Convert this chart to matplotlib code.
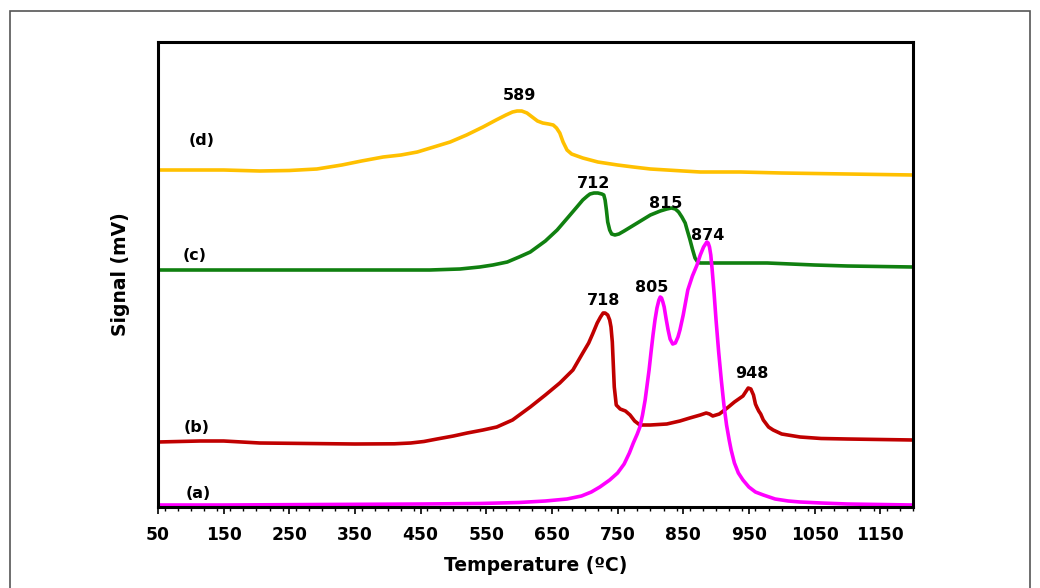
import matplotlib as mpl
mpl.use('Agg')
import matplotlib.pyplot as plt
from matplotlib.patches import Rectangle
from matplotlib.ticker import MultipleLocator, FixedLocator

# (a) magenta
Ta = [50, 150, 450, 540, 600, 640, 673, 695, 710, 723, 738, 750, 760, 768, 774, 780, 784, 788, 792, 795, 798, 801, 804, 807,
      810, 813, 815, 817, 819, 821, 824, 827, 830, 834, 838, 842, 845, 850, 857, 864, 871, 876, 881, 884, 886, 888, 890,
      892, 894, 897, 900, 904, 908, 912, 916, 920, 923, 928, 934, 941, 950, 960, 972, 990, 1010, 1028, 1060, 1100, 1150, 1200]
Sa = [0.02, 0.02, 0.03, 0.035, 0.045, 0.06, 0.08, 0.11, 0.15, 0.20, 0.27, 0.34, 0.43, 0.54, 0.64, 0.73, 0.80, 0.92, 1.07, 1.22, 1.37, 1.55, 1.72, 1.87,
      1.99, 2.07, 2.10, 2.09, 2.05, 2.00, 1.88, 1.77, 1.68, 1.63, 1.64, 1.70, 1.77, 1.92, 2.17, 2.31, 2.42, 2.52, 2.60, 2.63, 2.65, 2.64, 2.60,
      2.52, 2.38, 2.14, 1.87, 1.55, 1.27, 1.02, 0.82, 0.67, 0.57, 0.44, 0.34, 0.27, 0.20, 0.15, 0.12, 0.08, 0.06, 0.05, 0.04, 0.03, 0.025, 0.02]

# (b) red
Tb = [50, 114, 150, 205, 350, 410, 435, 455, 475, 500, 521, 545, 566, 590, 617, 640, 662, 682, 697, 706, 712, 719, 724, 728, 731,
      735, 738, 740, 742, 743, 745, 748, 754, 762, 769, 776, 784, 800, 825, 845, 860, 876, 885, 890, 895, 905, 917, 928, 941,
      946, 949, 953, 957, 960, 962, 965, 968, 972, 980, 987, 1000, 1028, 1060, 1100, 1150, 1200]
Sb = [0.65, 0.66, 0.66, 0.64, 0.63, 0.632, 0.64, 0.655, 0.68, 0.71, 0.74, 0.77, 0.80, 0.87, 1.00, 1.12, 1.24, 1.37, 1.54, 1.64, 1.73, 1.84, 1.90, 1.94, 1.94,
      1.92, 1.87, 1.80, 1.65, 1.50, 1.20, 1.02, 0.98, 0.96, 0.92, 0.86, 0.82, 0.82, 0.83, 0.86, 0.89, 0.92, 0.94, 0.93, 0.91, 0.93, 0.99, 1.05, 1.11,
      1.16, 1.19, 1.18, 1.12, 1.03, 1.00, 0.96, 0.93, 0.87, 0.80, 0.77, 0.73, 0.70, 0.685, 0.68, 0.675, 0.67]

# (c) green
Tc = [50, 300, 464, 510, 540, 560, 582, 600, 617, 640, 658, 675, 688, 697, 704, 708, 714, 720, 726, 729, 731, 733, 735, 738,
      741, 746, 752, 760, 770, 780, 800, 815, 825, 832, 838, 843, 848, 853, 856, 860, 864, 868, 872, 876, 880, 930, 978,
      1050, 1100, 1200]
Sc = [2.37, 2.37, 2.37, 2.38, 2.40, 2.42, 2.45, 2.50, 2.55, 2.66, 2.77, 2.90, 3.00, 3.07, 3.11, 3.13, 3.14, 3.14, 3.13, 3.12, 3.07, 2.97, 2.85, 2.77,
      2.73, 2.72, 2.73, 2.76, 2.80, 2.84, 2.92, 2.96, 2.98, 2.99, 2.98, 2.95, 2.90, 2.84, 2.77, 2.68, 2.58, 2.49, 2.45, 2.44, 2.44, 2.44, 2.44,
      2.42, 2.41, 2.40]

# (d) yellow
Td = [50, 150, 205, 250, 292, 330, 360, 393, 420, 445, 470, 495, 520, 545, 565, 580, 590, 597, 604, 612, 620, 628, 636, 645,
      652, 657, 662, 667, 673, 680, 697, 720, 750, 774, 800, 850, 876, 937, 1000, 1100, 1200]
Sd = [3.37, 3.37, 3.36, 3.365, 3.38, 3.42, 3.46, 3.50, 3.52, 3.55, 3.60, 3.65, 3.72, 3.80, 3.87, 3.92, 3.95, 3.96, 3.96, 3.94, 3.90, 3.86, 3.84, 3.83,
      3.82, 3.79, 3.74, 3.65, 3.57, 3.53, 3.49, 3.45, 3.42, 3.40, 3.38, 3.36, 3.35, 3.35, 3.34, 3.33, 3.32]

peak_labels = ['589', '712', '815', '874', '718', '805', '948']
peak_T = [600, 714, 824, 888, 728, 802, 955]
peak_S = [4.11, 3.24, 3.04, 2.72, 2.07, 2.20, 1.34]

curve_labels = ['(a)', '(b)', '(c)', '(d)']
curve_T = [111, 109, 106, 117]
curve_S = [0.14, 0.79, 2.52, 3.67]

xticks = [50, 150, 250, 350, 450, 550, 650, 750, 850, 950, 1050, 1150]

fig = plt.figure(figsize=(10.4, 5.88), dpi=100)
ax = fig.add_axes([158/1040, 1-507/588, 755/1040, 465/588])

lw = 2.6
ax.plot(Td, Sd, color='#FFC000', lw=lw, solid_joinstyle='round')
ax.plot(Tc, Sc, color='#108010', lw=lw, solid_joinstyle='round')
ax.plot(Tb, Sb, color='#C00000', lw=lw, solid_joinstyle='round')
ax.plot(Ta, Sa, color='#FF00FF', lw=lw, solid_joinstyle='round')

for t, x, y in zip(peak_labels, peak_T, peak_S):
    ax.text(x, y, t, ha='center', va='center', fontsize=11.5, fontweight='bold')
for t, x, y in zip(curve_labels, curve_T, curve_S):
    ax.text(x, y, t, ha='center', va='center', fontsize=11.5, fontweight='bold')

ax.set_xlim(50, 1200)
ax.set_ylim(0, 4.65)
ax.xaxis.set_major_locator(FixedLocator(xticks))
ax.xaxis.set_minor_locator(MultipleLocator(20))
ax.set_yticks([])
ax.tick_params(axis='x', which='major', direction='out', length=5, width=1.2, labelsize=12.3, pad=9)
ax.tick_params(axis='x', which='minor', direction='out', length=3, width=1)
for lab in ax.get_xticklabels():
    lab.set_fontweight('bold')
for s in ax.spines.values():
    s.set_linewidth(2.2)
    s.set_color('black')

ax.set_xlabel('Temperature (ºC)', fontsize=13.5, fontweight='bold', labelpad=8)
ax.set_ylabel('Signal (mV)', fontsize=13.5, fontweight='bold', labelpad=20)

fig.patches.append(Rectangle((10/1040, -0.1), 1020/1040, 1.1 - 11/588, transform=fig.transFigure,
                             fill=False, edgecolor='#555555', lw=1.2))

plt.savefig('out.png', dpi=100)
